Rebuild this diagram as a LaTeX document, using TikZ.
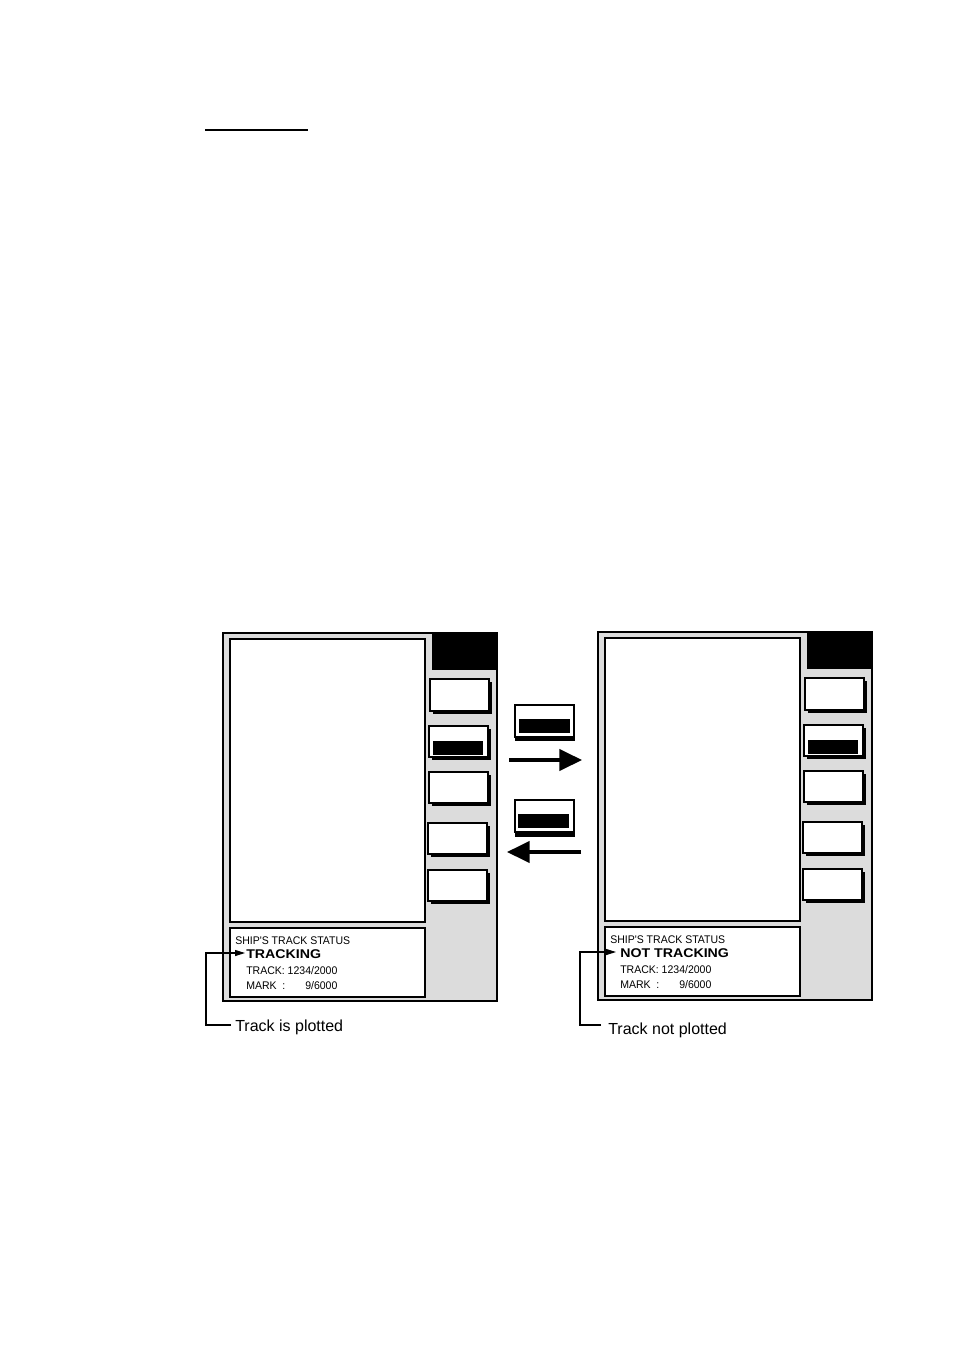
\documentclass[tikz,border=0pt]{standalone}
\usepackage{fontspec}
\setmainfont{Liberation Sans}
\newfontfamily\statfont[FakeStretch=0.95]{Liberation Sans}
\newfontfamily\widefont[FakeStretch=1.12]{Liberation Sans}
\usetikzlibrary{arrows.meta}
\definecolor{panelgray}{HTML}{DCDCDC}
\tikzset{
  outerpanel/.style={draw=black, fill=panelgray, line width=1.1pt},
  header/.style={fill=black},
  screen/.style={draw=black, fill=white, line width=1.1pt},
  keybox/.style={draw=black, fill=white, line width=0.9pt},
  keyshadow/.style={fill=black},
  keybar/.style={fill=black},
  stattext/.style={anchor=base west, inner sep=0pt, font=\statfont\fontsize{8.3pt}{9pt}\selectfont},
  statbold/.style={anchor=base west, inner sep=0pt, font=\widefont\fontsize{9.5pt}{11pt}\selectfont\bfseries},
  caption/.style={anchor=base west, inner sep=0pt, font=\fontsize{12pt}{14pt}\selectfont},
  leader/.style={draw=black, line width=0.8pt, -{Triangle[length=7.5pt,width=4.5pt]}},
  bigarrow/.style={draw=black, line width=2.4pt, -{Triangle[length=17pt,width=16pt]}}
}
\newcommand\softkey[4]{%
  \fill[keyshadow] (#1+3,#2+3) rectangle (#3+3,#4+3);
  \draw[keybox] (#1,#2) rectangle (#3,#4);}
\newcommand\trackpanel{%
  \draw[outerpanel] (223,633) rectangle (497,1001);
  \fill[header] (432,633) rectangle (497,670);
  \draw[outerpanel, fill=none] (223,633) rectangle (497,1001);
  \draw[screen] (230,639) rectangle (425,922);
  \draw[screen] (230,928) rectangle (425,997);
  \softkey{430}{679}{489}{711}
  \softkey{429}{726}{488}{757}
  \fill[keybar] (433,741) rectangle (483,755);
  \softkey{429}{772}{488}{803}
  \softkey{428}{823}{487}{854}
  \softkey{428}{870}{487}{901}}
\begin{document}
\begin{tikzpicture}[x=0.75pt, y=-0.75pt]
  \useasboundingbox[fill=white] (0,0) rectangle (954,1351);
  % top rule
  \draw[line width=1.1pt] (205,130) -- (308,130);

  % left panel
  \trackpanel
  \node[stattext] (lship) at (235,944) {SHIP'S TRACK STATUS};
  \node[statbold] (ltrk) at (246,958) {TRACKING};
  \node[stattext] (lnum) at (246,974) {TRACK: 1234/2000};
  \node[stattext] (lmark) at (246,989) {\makebox[44.25pt][l]{MARK~ :}9/6000};

  % right panel
  \begin{scope}[shift={(375,-1)}]
    \trackpanel
  \end{scope}
  \node[stattext] (rship) at (610,943) {SHIP'S TRACK STATUS};
  \node[statbold] (rtrk) at (620,957) {NOT TRACKING};
  \node[stattext] (rnum) at (620,973) {TRACK: 1234/2000};
  \node[stattext] (rmark) at (620,988) {\makebox[44.25pt][l]{MARK~ :}9/6000};

  % middle keys
  \fill[keyshadow] (515,709) rectangle (575,741);
  \draw[keybox] (515,705) rectangle (574,737);
  \fill[keybar] (519,719) rectangle (570,733);
  \fill[keyshadow] (515,804) rectangle (575,837);
  \draw[keybox] (515,800) rectangle (574,832);
  \fill[keybar] (518,814) rectangle (569,828);

  % big arrows
  \coordinate (raS) at (509,760);
  \coordinate (raE) at (582,760);
  \draw[bigarrow] (raS) -- (raE);
  \coordinate (laS) at (581,852);
  \coordinate (laE) at (507,852);
  \draw[bigarrow] (laS) -- (laE);

  % captions and leaders
  \node[caption] (capL) at (235,1031) {Track is plotted};
  \node[caption] (capR) at (608,1034) {Track not plotted};
  \coordinate (lA) at (231,1025);
  \coordinate (lB) at (206,1025);
  \coordinate (lC) at (206,953);
  \coordinate (lT) at (245,953);
  \draw[leader] (lA) -- (lB) -- (lC) -- (lT);
  \coordinate (rA) at (601,1025);
  \coordinate (rB) at (580,1025);
  \coordinate (rC) at (580,952);
  \coordinate (rT) at (616,952);
  \draw[leader] (rA) -- (rB) -- (rC) -- (rT);
\end{tikzpicture}
\end{document}
